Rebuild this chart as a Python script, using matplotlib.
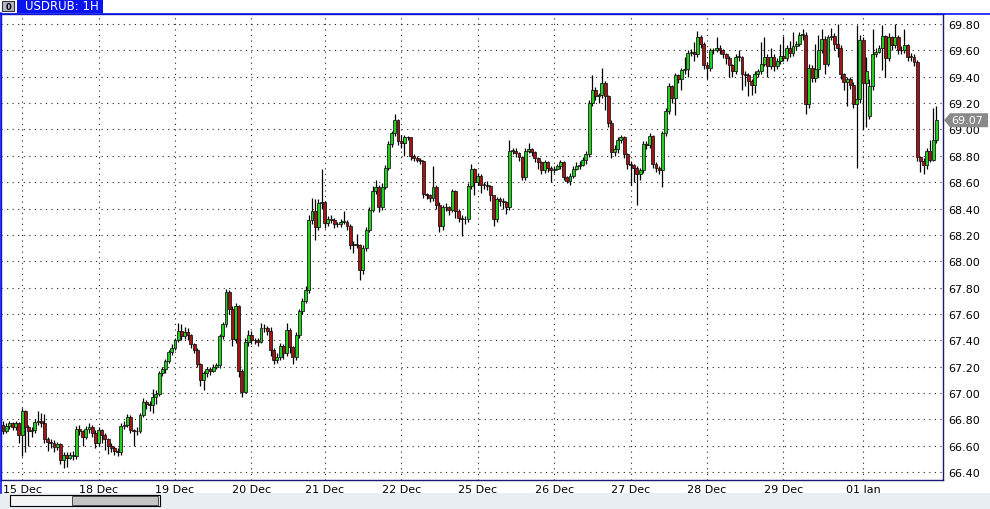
import numpy as np
import matplotlib
matplotlib.use('Agg')
import matplotlib.pyplot as plt
from matplotlib.patches import Rectangle, Polygon

# USDRUB hourly candles
symbol = 'USDRUB: 1H'
first_open = 66.76
open_gaps = {272: 69.10}
last_price = 69.07

close = [
    66.71, 66.75, 66.77, 66.74, 66.77, 66.68, 66.86, 66.74, 66.71, 66.72, 66.78, 66.79,
    66.77, 66.65, 66.63, 66.62, 66.59, 66.61, 66.49, 66.53, 66.51, 66.53, 66.52, 66.73,
    66.71, 66.67, 66.73, 66.74, 66.70, 66.62, 66.72, 66.68, 66.65, 66.60, 66.58, 66.56,
    66.55, 66.75, 66.76, 66.82, 66.72, 66.71, 66.71, 66.83, 66.93, 66.92, 66.91, 66.97,
    66.99, 67.15, 67.18, 67.24, 67.31, 67.34, 67.40, 67.47, 67.43, 67.46, 67.44, 67.37,
    67.33, 67.22, 67.10, 67.15, 67.18, 67.17, 67.20, 67.21, 67.43, 67.52, 67.77, 67.64,
    67.41, 67.66, 67.17, 67.01, 67.39, 67.44, 67.40, 67.40, 67.39, 67.49, 67.49, 67.47,
    67.33, 67.25, 67.27, 67.36, 67.30, 67.48, 67.35, 67.27, 67.44, 67.62, 67.70, 67.78,
    68.31, 68.38, 68.26, 68.44, 68.45, 68.29, 68.32, 68.31, 68.28, 68.28, 68.30, 68.30,
    68.27, 68.12, 68.13, 68.12, 67.93, 68.10, 68.24, 68.39, 68.53, 68.56, 68.41, 68.56,
    68.71, 68.89, 68.97, 69.07, 68.91, 68.90, 68.94, 68.94, 68.80, 68.78, 68.77, 68.76,
    68.51, 68.50, 68.48, 68.56, 68.43, 68.27, 68.41, 68.41, 68.39, 68.53, 68.38, 68.33,
    68.32, 68.32, 68.57, 68.70, 68.60, 68.65, 68.58, 68.58, 68.57, 68.50, 68.32, 68.47,
    68.46, 68.45, 68.41, 68.84, 68.84, 68.82, 68.79, 68.64, 68.84, 68.85, 68.83, 68.78,
    68.75, 68.69, 68.75, 68.71, 68.69, 68.70, 68.72, 68.75, 68.64, 68.61, 68.65, 68.70,
    68.72, 68.73, 68.77, 68.81, 69.20, 69.30, 69.25, 69.26, 69.35, 69.25, 69.05, 68.83,
    68.85, 68.92, 68.94, 68.81, 68.74, 68.73, 68.71, 68.66, 68.69, 68.89, 68.88, 68.95,
    68.74, 68.71, 68.69, 68.97, 69.14, 69.33, 69.24, 69.41, 69.38, 69.45, 69.46, 69.58,
    69.59, 69.57, 69.70, 69.65, 69.49, 69.47, 69.60, 69.60, 69.62, 69.60, 69.57, 69.54,
    69.49, 69.44, 69.55, 69.55, 69.42, 69.41, 69.37, 69.34, 69.42, 69.44, 69.50, 69.55,
    69.48, 69.55, 69.48, 69.52, 69.56, 69.54, 69.62, 69.58, 69.63, 69.65, 69.72, 69.72,
    69.19, 69.47, 69.39, 69.46, 69.60, 69.69, 69.50, 69.70, 69.71, 69.65, 69.62, 69.42,
    69.36, 69.38, 69.34, 69.19, 69.23, 69.68, 69.35, 69.44, 69.33, 69.57, 69.59, 69.62,
    69.71, 69.54, 69.70, 69.64, 69.70, 69.60, 69.60, 69.64, 69.55, 69.55, 69.51, 68.79,
    68.76, 68.73, 68.84, 68.77, 68.92, 69.07,
]

high = [
    66.79, 66.77, 66.79, 66.78, 66.79, 66.78, 66.89, 66.87, 66.76, 66.74, 66.80, 66.86,
    66.85, 66.84, 66.67, 66.65, 66.64, 66.63, 66.62, 66.55, 66.55, 66.55, 66.56, 66.75,
    66.76, 66.72, 66.75, 66.77, 66.76, 66.72, 66.74, 66.73, 66.70, 66.66, 66.62, 66.60,
    66.58, 66.77, 66.79, 66.84, 66.83, 66.73, 66.74, 66.85, 66.96, 66.95, 66.94, 67.03,
    67.02, 67.17, 67.20, 67.26, 67.33, 67.37, 67.42, 67.53, 67.52, 67.50, 67.49, 67.45,
    67.38, 67.34, 67.23, 67.17, 67.20, 67.20, 67.22, 67.23, 67.45, 67.54, 67.79, 67.78,
    67.66, 67.68, 67.67, 67.18, 67.42, 67.48, 67.47, 67.42, 67.42, 67.53, 67.52, 67.51,
    67.50, 67.34, 67.30, 67.38, 67.37, 67.53, 67.49, 67.36, 67.46, 67.64, 67.72, 67.81,
    68.35, 68.48, 68.47, 68.47, 68.70, 68.46, 68.34, 68.35, 68.33, 68.30, 68.32, 68.38,
    68.31, 68.28, 68.15, 68.21, 68.13, 68.12, 68.26, 68.41, 68.57, 68.62, 68.58, 68.59,
    68.73, 68.91, 68.99, 69.12, 69.08, 68.96, 68.96, 68.95, 68.92, 68.81, 68.80, 68.78,
    68.77, 68.52, 68.51, 68.72, 68.58, 68.45, 68.43, 68.44, 68.42, 68.55, 68.54, 68.40,
    68.35, 68.34, 68.59, 68.74, 68.71, 68.67, 68.66, 68.60, 68.61, 68.58, 68.50, 68.49,
    68.49, 68.48, 68.46, 68.92, 68.86, 68.86, 68.83, 68.80, 68.86, 68.90, 68.86, 68.84,
    68.79, 68.76, 68.77, 68.76, 68.72, 68.72, 68.74, 68.77, 68.76, 68.65, 68.67, 68.72,
    68.75, 68.76, 68.79, 68.84, 69.22, 69.41, 69.32, 69.28, 69.47, 69.37, 69.26, 69.07,
    68.88, 68.94, 68.96, 68.95, 68.82, 68.76, 68.74, 68.72, 68.71, 68.91, 68.91, 68.97,
    68.96, 68.75, 68.72, 68.99, 69.16, 69.35, 69.34, 69.43, 69.42, 69.47, 69.55, 69.60,
    69.61, 69.66, 69.75, 69.72, 69.66, 69.51, 69.62, 69.62, 69.70, 69.64, 69.61, 69.58,
    69.56, 69.50, 69.57, 69.60, 69.56, 69.44, 69.43, 69.38, 69.44, 69.46, 69.66, 69.70,
    69.57, 69.62, 69.57, 69.54, 69.65, 69.71, 69.64, 69.67, 69.74, 69.67, 69.74, 69.76,
    69.74, 69.50, 69.49, 69.65, 69.72, 69.76, 69.71, 69.72, 69.77, 69.73, 69.80, 69.64,
    69.43, 69.40, 69.40, 69.36, 69.79, 69.72, 69.70, 69.55, 69.38, 69.76, 69.62, 69.64,
    69.79, 69.72, 69.73, 69.71, 69.80, 69.72, 69.63, 69.76, 69.65, 69.58, 69.57, 69.53,
    68.80, 68.78, 68.86, 68.92, 69.16, 69.18,
]

low = [
    66.69, 66.70, 66.73, 66.72, 66.72, 66.62, 66.52, 66.55, 66.60, 66.67, 66.70, 66.76,
    66.74, 66.62, 66.56, 66.58, 66.55, 66.57, 66.46, 66.43, 66.44, 66.50, 66.49, 66.50,
    66.68, 66.60, 66.65, 66.70, 66.67, 66.58, 66.60, 66.62, 66.57, 66.54, 66.55, 66.53,
    66.52, 66.53, 66.73, 66.74, 66.70, 66.60, 66.68, 66.70, 66.82, 66.88, 66.86, 66.85,
    66.92, 66.98, 67.13, 67.15, 67.23, 67.29, 67.33, 67.39, 67.40, 67.41, 67.40, 67.34,
    67.30, 67.20, 67.05, 67.02, 67.12, 67.14, 67.16, 67.18, 67.19, 67.41, 67.50, 67.60,
    67.36, 67.38, 67.12, 66.97, 67.00, 67.36, 67.37, 67.37, 67.36, 67.38, 67.46, 67.44,
    67.28, 67.22, 67.23, 67.25, 67.26, 67.28, 67.30, 67.22, 67.25, 67.42, 67.60, 67.68,
    67.76, 68.28, 68.16, 68.24, 68.40, 68.25, 68.27, 68.29, 68.25, 68.26, 68.26, 68.28,
    68.24, 68.09, 68.06, 68.10, 67.86, 67.90, 68.08, 68.22, 68.37, 68.51, 68.37, 68.39,
    68.55, 68.69, 68.87, 68.95, 68.88, 68.86, 68.80, 68.92, 68.77, 68.76, 68.75, 68.74,
    68.48, 68.47, 68.45, 68.46, 68.40, 68.22, 68.24, 68.38, 68.35, 68.37, 68.33, 68.30,
    68.19, 68.28, 68.30, 68.55, 68.50, 68.58, 68.52, 68.55, 68.54, 68.46, 68.27, 68.30,
    68.42, 68.40, 68.36, 68.39, 68.81, 68.79, 68.76, 68.62, 68.62, 68.82, 68.80, 68.75,
    68.70, 68.66, 68.67, 68.68, 68.60, 68.67, 68.69, 68.70, 68.62, 68.59, 68.58, 68.63,
    68.69, 68.70, 68.72, 68.74, 68.79, 69.18, 69.22, 69.20, 69.24, 69.15, 69.02, 68.78,
    68.80, 68.82, 68.90, 68.78, 68.70, 68.58, 68.60, 68.43, 68.62, 68.67, 68.85, 68.86,
    68.71, 68.68, 68.66, 68.56, 68.95, 69.12, 69.20, 69.11, 69.35, 69.30, 69.42, 69.40,
    69.56, 69.52, 69.55, 69.62, 69.46, 69.38, 69.44, 69.57, 69.59, 69.57, 69.54, 69.50,
    69.40, 69.40, 69.42, 69.52, 69.30, 69.33, 69.25, 69.26, 69.28, 69.40, 69.42, 69.48,
    69.40, 69.46, 69.44, 69.46, 69.50, 69.52, 69.52, 69.55, 69.56, 69.60, 69.63, 69.68,
    69.12, 69.16, 69.36, 69.36, 69.40, 69.58, 69.42, 69.48, 69.68, 69.60, 69.55, 69.38,
    69.30, 69.18, 69.31, 69.16, 68.71, 69.20, 69.00, 69.02, 69.08, 69.30, 69.55, 69.58,
    69.45, 69.40, 69.52, 69.60, 69.62, 69.57, 69.57, 69.58, 69.52, 69.52, 69.48, 68.76,
    68.68, 68.66, 68.70, 68.75, 68.76, 68.90,
]

day_labels = ['15 Dec', '18 Dec', '19 Dec', '20 Dec', '21 Dec', '22 Dec',
              '25 Dec', '26 Dec', '27 Dec', '28 Dec', '29 Dec', '01 Jan']
day_start = [6, 30, 54, 78, 101, 125, 149, 173, 197, 221, 245, 270]

price_ticks = np.arange(66.4, 69.81, 0.2)

W, H = 990, 510
fig = plt.figure(figsize=(W / 100, H / 100), dpi=100)
fig.patch.set_facecolor('white')


def fx(x):
    return x / W


def fy(y):
    return 1 - y / H


ax = fig.add_axes([fx(1), fy(481), fx(943) - fx(1), fy(15) - fy(481)])

c = np.array(close)
o = np.r_[first_open, c[:-1]]
for k, v in open_gaps.items():
    o[k] = v
hi = np.array(high)
lo = np.array(low)
x = np.arange(len(c))
up = c >= o

bottom = np.minimum(o, c)
height = np.maximum(np.abs(c - o), 0.004)

ax.vlines(x, lo, hi, color='black', lw=0.9, zorder=2)
ax.bar(x[up], height[up], bottom=bottom[up], width=0.92, color='#22d022',
       edgecolor='#111111', lw=0.55, zorder=3)
ax.bar(x[~up], height[~up], bottom=bottom[~up], width=0.92, color='#a41414',
       edgecolor='#111111', lw=0.55, zorder=3)

ax.set_xlim(-0.63, 295.1)
ax.set_ylim(66.34, 69.876)

ax.set_xticks(day_start)
ax.set_xticklabels(day_labels, fontsize=8)
ax.set_yticks(price_ticks)
ax.set_yticklabels(['%.2f' % v for v in price_ticks], fontsize=8)
ax.yaxis.tick_right()
ax.tick_params(axis='both', length=0, pad=3)
ax.tick_params(axis='y', pad=4)
ax.grid(True, color='#222222', linestyle=(0, (1, 4)), lw=0.8)
ax.set_axisbelow(True)
for s in ax.spines.values():
    s.set_color('#1a1a6e')
    s.set_linewidth(1)

# current price tag
py = 25 + (69.80 - last_price) * 131.8
tag = Polygon([(fx(944), fy(py)), (fx(950), fy(py - 7)), (fx(988), fy(py - 7)),
               (fx(988), fy(py + 7)), (fx(950), fy(py + 7))],
              closed=True, transform=fig.transFigure, facecolor='#8a8a8a',
              edgecolor='none', zorder=5)
fig.patches.append(tag)
fig.text(fx(951), fy(py), '%.2f' % last_price, color='white', fontsize=8,
         va='center', ha='left', zorder=6)

# header tab
fig.patches.append(Rectangle((fx(0), fy(14)), fx(990), fy(0) - fy(14),
                             transform=fig.transFigure, facecolor='white',
                             edgecolor='none'))
fig.patches.append(Rectangle((fx(17), fy(14)), fx(86), fy(0) - fy(14),
                             transform=fig.transFigure, facecolor='#0a14f0',
                             edgecolor='none'))
fig.patches.append(Rectangle((fx(2), fy(12)), fx(12), fy(2) - fy(12),
                             transform=fig.transFigure, facecolor='#b8b8c8',
                             edgecolor='#333333', lw=0.8))
fig.text(fx(8), fy(7), '0', fontsize=6, ha='center', va='center',
         fontweight='bold')
fig.text(fx(25), fy(7), symbol, color='white', fontsize=8.5, va='center')
fig.lines.append(plt.Line2D([0, 1], [fy(14.5), fy(14.5)], color='#0a14f0',
                            lw=1.2, transform=fig.transFigure))
fig.lines.append(plt.Line2D([fx(0.5), fx(0.5)], [fy(14), fy(494)],
                            color='#0a14f0', lw=1.2, transform=fig.transFigure))

# bottom scroll strip
fig.patches.append(Rectangle((0, 0), 1, fy(494), transform=fig.transFigure,
                             facecolor='#e9eef3', edgecolor='none'))
fig.patches.append(Rectangle((fx(10), fy(507)), fx(150), fy(496) - fy(507),
                             transform=fig.transFigure, facecolor='#f4f4f4',
                             edgecolor='black', lw=0.8))
fig.patches.append(Rectangle((fx(72), fy(506)), fx(86), fy(497) - fy(506),
                             transform=fig.transFigure, facecolor='#c4c4c4',
                             edgecolor='#333333', lw=0.6))

fig.savefig('out.png', dpi=100)
